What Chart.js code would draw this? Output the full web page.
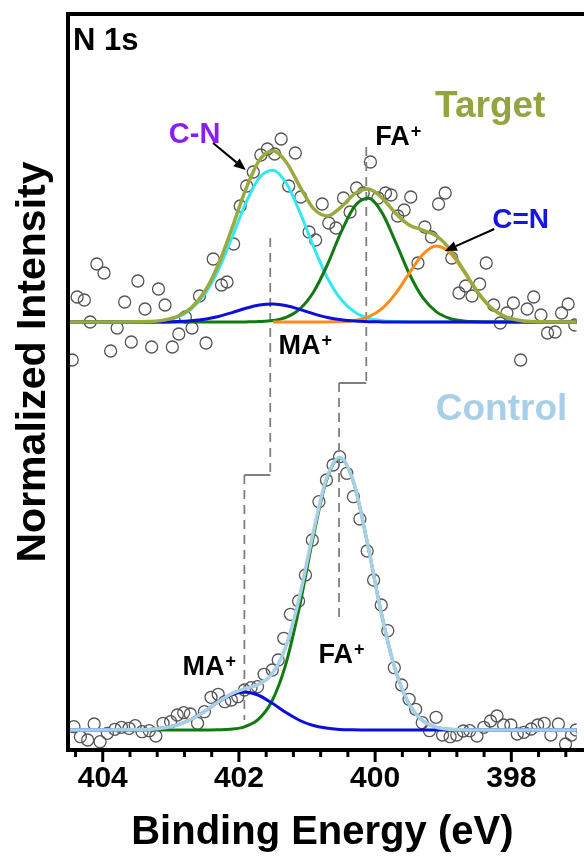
<!DOCTYPE html>
<html>
<head>
<meta charset="utf-8">
<script src="https://cdn.jsdelivr.net/npm/chart.js@4.4.1/dist/chart.umd.min.js"></script>
<style>
  html, body { margin: 0; padding: 0; background: #fff; overflow: hidden; }
</style>
</head>
<body>
<canvas id="xps" width="584" height="863"></canvas>
<script>
// N 1s XPS spectra, binding energy in eV, intensity in a.u. (normalized, offset)
var FONT = "'Liberation Sans', Arial, Helvetica, sans-serif";

// measured points - Target
var targetBE = [404.448, 404.376, 404.270, 404.184, 404.087, 403.981, 403.884, 403.788, 403.678, 403.581,
  403.484, 403.379, 403.282, 403.181, 403.085, 402.978, 402.883, 402.786, 402.689, 402.579,
  402.483, 402.377, 402.256, 402.175, 402.078, 401.981, 401.886, 401.789, 401.678, 401.582,
  401.475, 401.380, 401.269, 401.172, 401.091, 400.970, 400.874, 400.777, 400.681, 400.575,
  400.464, 400.368, 400.272, 400.175, 400.069, 399.958, 399.848, 399.766, 399.669, 399.574,
  399.477, 399.371, 399.270, 399.173, 399.068, 398.971, 398.874, 398.769, 398.672, 398.577,
  398.465, 398.368, 398.259, 398.162, 398.065, 397.970, 397.863, 397.767, 397.671, 397.565,
  397.468, 397.357, 397.262, 397.165, 397.068];
var targetCounts = [390, 453, 450, 428, 486, 477, 399, 422, 448, 408,
  469, 441, 403, 461, 445, 403, 416, 433, 422, 454,
  407, 491, 465, 468, 506, 544, 564, 578, 595, 601,
  596, 611, 564, 597, 553, 518, 510, 546, 527, 522,
  552, 538, 562, 557, 588, 552, 557, 555, 534, 540,
  553, 487, 523, 513, 546, 557, 492, 457, 464, 454,
  466, 487, 445, 427, 437, 447, 390, 441, 453, 435,
  417, 418, 437, 446, 425];

// measured points - Control
var controlBE = [404.423, 404.328, 404.221, 404.126, 404.039, 403.932, 403.822, 403.725, 403.614, 403.523,
  403.422, 403.316, 403.220, 403.114, 403.003, 402.906, 402.811, 402.714, 402.608, 402.507,
  402.410, 402.305, 402.208, 402.111, 402.016, 401.919, 401.822, 401.727, 401.630, 401.510,
  401.423, 401.341, 401.244, 401.124, 401.023, 400.922, 400.825, 400.715, 400.618, 400.522,
  400.416, 400.319, 400.224, 400.117, 400.022, 399.910, 399.814, 399.718, 399.611, 399.501,
  399.405, 399.308, 399.202, 399.105, 399.010, 398.899, 398.802, 398.707, 398.610, 398.504,
  398.403, 398.306, 398.210, 398.114, 398.007, 397.912, 397.815, 397.709, 397.613, 397.516,
  397.420, 397.309, 397.204, 397.117, 397.049];
var controlCounts = [23.3, 13.3, 10, 26, 8.3, 16.7, 20.7, 22.7, 21.7, 24.3,
  18.3, 19.3, 14, 26.7, 28.3, 35, 37.3, 36, 26.7, 38.3,
  52.7, 55.7, 48.3, 50, 53.3, 60, 62.3, 63.3, 75.7, 80,
  90, 111.7, 135.7, 149, 175, 210, 248.3, 270, 285, 293.3,
  276.7, 253.3, 231, 199, 170, 145, 119.3, 82.3, 65, 50.7,
  40.7, 27.3, 19.3, 32.7, 15, 13.3, 15, 19, 19.3, 14,
  22.7, 29, 34, 25, 25, 16, 17.7, 21, 25, 26.7,
  15, 26, 6, 15, 20];

// fitted peaks - Target
var fitBE_T = [404.5, 403.3, 403.1, 402.9, 402.7, 402.5, 402.3, 402.1, 401.9, 401.7,
  401.5, 401.3, 401.1, 400.9, 400.7, 400.5, 400.3, 400.1, 399.9, 399.7,
  399.5, 399.3, 399.1, 398.9, 398.7, 398.5, 398.3, 398.1, 397.9, 397.7, 397.0];
var cnFitT = [428, 428.5, 429.8, 433.2, 441.0, 456.0, 480.3, 512.7, 546.8, 572.3,
  579.8, 566.2, 537.0, 502.5, 472.0, 450.5, 438.0, 431.8, 429.3, 428.4,
  428, 428, 428, 428, 428, 428, 428, 428, 428, 428, 428];
var maFitT = [428, 428.0, 428.1, 428.4, 429.2, 430.7, 433.5, 437.4, 441.7, 445.0,
  446.0, 444.2, 440.4, 436.1, 432.5, 430.2, 428.9, 428.3, 428.1, 428,
  428, 428, 428, 428, 428, 428, 428, 428, 428, 428, 428];
var faFitT = [428, 428, 428, 428, 428, 428, 428, 428, 428.1, 428.4,
  429.5, 432.9, 441.4, 458.5, 485.5, 517.8, 543.8, 551.7, 537.4, 508.1,
  476.5, 452.3, 438.1, 431.5, 429.0, 428.2, 428, 428, 428, 428, 428];
var cEqNFitT = [null, null, null, null, null, null, null, null, null, null,
  428, 428, 428, 428, 428.1, 428.4, 429.6, 433.1, 441.3, 456.3,
  476.6, 495.6, 504.0, 497.0, 478.7, 458.2, 442.5, 433.6, 429.8, 428.4, 428];
var envelopeT = [428, 428.5, 429.9, 433.6, 442.2, 458.7, 485.8, 522.1, 560.6, 589.7,
  599.3, 587.3, 562.8, 541.1, 534.1, 542.9, 556.3, 560.9, 552.1, 536.8,
  525.1, 519.9, 514.1, 500.5, 479.7, 458.4, 442.5, 433.6, 429.8, 428.4, 428];

// fitted peaks - Control
var fitBE_C = [404.5, 403.52, 403.32, 403.12, 402.92, 402.72, 402.52, 402.32, 402.12, 401.92,
  401.72, 401.52, 401.32, 401.12, 400.92, 400.72, 400.52, 400.32, 400.12, 399.92,
  399.72, 399.52, 399.32, 399.12, 398.92, 398.72, 398.52, 397.0];
var maFitC = [20, 20.2, 20.6, 21.9, 24.7, 30.0, 37.9, 47.2, 55.0, 58.0,
  55.0, 47.2, 37.9, 30.0, 24.7, 21.9, 20.6, 20.2, 20, 20,
  20, 20, 20, 20, 20, 20, 20, 20];
var faFitC = [20, 20, 20, 20, 20, 20, 20, 20.2, 20.8, 23.2,
  30.4, 48.3, 83.9, 140.4, 209.3, 268.5, 292.0, 268.5, 209.3, 140.4,
  83.9, 48.3, 30.4, 23.2, 20.8, 20.2, 20, 20];
var envelopeC = [20, 20.2, 20.6, 21.9, 24.7, 30.0, 37.9, 47.4, 55.8, 61.2,
  65.4, 75.5, 101.8, 150.4, 214.0, 270.4, 292.6, 268.7, 209.3, 140.4,
  83.9, 48.3, 30.4, 23.2, 20.8, 20.2, 20, 20];

// dashed peak-position guides (MA+ and FA+, Target -> Control)
var maGuideBE = [401.54, 401.54, 401.92, 401.92];
var maGuideY = [512, 275, 275, 30];
var faGuideBE = [400.13, 400.13, 400.53, 400.53];
var faGuideY = [603, 367, 367, 130];

var olive = "#9aab3d";
var lightBlue = "#a8cfe8";

function pts(xs, ys) {
  return xs.map(function (x, i) { return { x: x, y: ys[i] }; });
}

function fitLine(label, xs, ys, color, width) {
  return {
    label: label,
    data: pts(xs, ys),
    showLine: true,
    borderColor: color,
    borderWidth: width,
    pointRadius: 0,
    cubicInterpolationMode: "monotone",
    fill: false
  };
}

function guide(label, xs, ys) {
  return {
    label: label,
    data: pts(xs, ys),
    showLine: true,
    borderColor: "#7f7f7f",
    borderWidth: 1.8,
    borderDash: [9, 6],
    pointRadius: 0,
    tension: 0,
    segment: {
      borderDash: function (c) { return c.p0.parsed.y === c.p1.parsed.y ? [] : undefined; }
    }
  };
}

function dots(label, xs, ys) {
  return {
    label: label,
    data: pts(xs, ys),
    pointRadius: 6,
    pointBorderWidth: 1.3,
    pointBorderColor: "#555",
    pointBackgroundColor: "rgba(255,255,255,0)",
    showLine: false
  };
}

function isMajor(v) {
  var r = Math.round(v);
  return Math.abs(v - r) < 1e-6 && r % 2 === 0;
}

// labels and arrows placed in data coordinates
var notes = [
  { text: "N 1s", x: 404.435, y: 700, size: 31, color: "#000" },
  { text: "C-N", x: 403.03, y: 607, size: 29, color: "#8a1ef2" },
  { text: "Target", x: 399.12, y: 633, size: 37, color: "#93a53f" },
  { text: "FA", sup: "+", x: 400.0, y: 605, size: 27, color: "#000" },
  { text: "C=N", x: 398.28, y: 522, size: 28, color: "#1616e0" },
  { text: "MA", sup: "+", x: 401.42, y: 396, size: 27, color: "#000" },
  { text: "Control", x: 399.11, y: 330, size: 37, color: lightBlue },
  { text: "MA", sup: "+", x: 402.83, y: 75, size: 27, color: "#000" },
  { text: "FA", sup: "+", x: 400.83, y: 87, size: 27, color: "#000" }
];
var arrows = [
  { from: [402.38, 607], to: [401.90, 580] },
  { from: [398.25, 521], to: [398.976, 499] }
];

var decor = {
  id: "decor",
  afterDraw: function (chart) {
    var ctx = chart.ctx, a = chart.chartArea;
    var xs = chart.scales.x, ys = chart.scales.y;
    ctx.save();

    // frame (right side runs off the picture)
    ctx.strokeStyle = "#000";
    ctx.lineWidth = 4;
    ctx.beginPath();
    ctx.moveTo(chart.width + 5, a.top);
    ctx.lineTo(a.left, a.top);
    ctx.lineTo(a.left, a.bottom);
    ctx.lineTo(chart.width + 5, a.bottom);
    ctx.stroke();

    // major / minor ticks
    ctx.lineWidth = 3;
    xs.ticks.forEach(function (t) {
      var px = xs.getPixelForValue(t.value);
      var len = isMajor(t.value) ? 12 : 7;
      ctx.beginPath();
      ctx.moveTo(px, a.bottom);
      ctx.lineTo(px, a.bottom + len);
      ctx.stroke();
    });

    // y title
    ctx.save();
    ctx.translate(34, 362);
    ctx.rotate(-Math.PI / 2);
    ctx.fillStyle = "#000";
    ctx.font = "bold 41px " + FONT;
    ctx.textAlign = "center";
    ctx.textBaseline = "middle";
    ctx.fillText("Normalized Intensity", 0, 0);
    ctx.restore();

    // text notes
    ctx.textAlign = "left";
    ctx.textBaseline = "alphabetic";
    notes.forEach(function (n) {
      var px = xs.getPixelForValue(n.x), py = ys.getPixelForValue(n.y);
      ctx.fillStyle = n.color;
      ctx.font = "bold " + n.size + "px " + FONT;
      ctx.fillText(n.text, px, py);
      if (n.sup) {
        var w = ctx.measureText(n.text).width;
        ctx.font = "bold 18px " + FONT;
        ctx.fillText(n.sup, px + w + 1, py - 8);
      }
    });

    // arrows
    ctx.strokeStyle = "#000";
    ctx.fillStyle = "#000";
    ctx.lineWidth = 2;
    arrows.forEach(function (ar) {
      var x0 = xs.getPixelForValue(ar.from[0]), y0 = ys.getPixelForValue(ar.from[1]);
      var x1 = xs.getPixelForValue(ar.to[0]), y1 = ys.getPixelForValue(ar.to[1]);
      var ang = Math.atan2(y1 - y0, x1 - x0);
      var hl = 12, hw = 5;
      var bx = x1 - hl * Math.cos(ang), by = y1 - hl * Math.sin(ang);
      ctx.beginPath();
      ctx.moveTo(x0, y0);
      ctx.lineTo(bx, by);
      ctx.stroke();
      ctx.beginPath();
      ctx.moveTo(x1, y1);
      ctx.lineTo(bx + hw * Math.sin(ang), by - hw * Math.cos(ang));
      ctx.lineTo(bx - hw * Math.sin(ang), by + hw * Math.cos(ang));
      ctx.closePath();
      ctx.fill();
    });

    ctx.restore();
  }
};

var ctx = document.getElementById("xps").getContext("2d");
// eslint-disable-next-line no-undef
var xpsChart = new Chart(ctx, {
  type: "scatter",
  data: {
    // first dataset is drawn on top
    datasets: [
      fitLine("Target envelope", fitBE_T, envelopeT, olive, 3.5),
      fitLine("Control envelope", fitBE_C, envelopeC, lightBlue, 3.5),
      fitLine("MA+ (Target)", fitBE_T, maFitT, "#0b0fd9", 3),
      fitLine("MA+ (Control)", fitBE_C, maFitC, "#0b0fd9", 3),
      fitLine("C=N", fitBE_T, cEqNFitT, "#ff8c1a", 3),
      fitLine("FA+ (Target)", fitBE_T, faFitT, "#127a12", 3),
      fitLine("FA+ (Control)", fitBE_C, faFitC, "#127a12", 3),
      fitLine("C-N", fitBE_T, cnFitT, "#33e8f2", 3),
      guide("MA+ shift", maGuideBE, maGuideY),
      guide("FA+ shift", faGuideBE, faGuideY),
      dots("Target", targetBE, targetCounts),
      dots("Control", controlBE, controlCounts)
    ]
  },
  options: {
    responsive: false,
    animation: false,
    devicePixelRatio: 1,
    layout: { padding: { left: 68, top: 14, right: 0, bottom: 0 } },
    plugins: {
      legend: { display: false },
      tooltip: { enabled: false }
    },
    scales: {
      x: {
        type: "linear",
        reverse: true,
        min: 397.04,
        max: 404.51,
        grid: { display: false, drawTicks: false },
        border: { display: false },
        ticks: {
          stepSize: 0.4,
          autoSkip: false,
          includeBounds: false,
          maxRotation: 0,
          padding: 11,
          color: "#000",
          font: { family: FONT, size: 30, weight: "bold" },
          callback: function (v) { return isMajor(v) ? String(Math.round(v)) : ""; }
        },
        title: {
          display: true,
          text: "Binding Energy (eV)",
          color: "#000",
          font: { family: FONT, size: 40, weight: "bold" },
          padding: { top: 0, bottom: 6 }
        },
        afterFit: function (s) { s.height = 113; }
      },
      y: {
        type: "linear",
        min: 0,
        max: 736,
        display: false
      }
    }
  },
  plugins: [decor]
});
</script>
</body>
</html>
